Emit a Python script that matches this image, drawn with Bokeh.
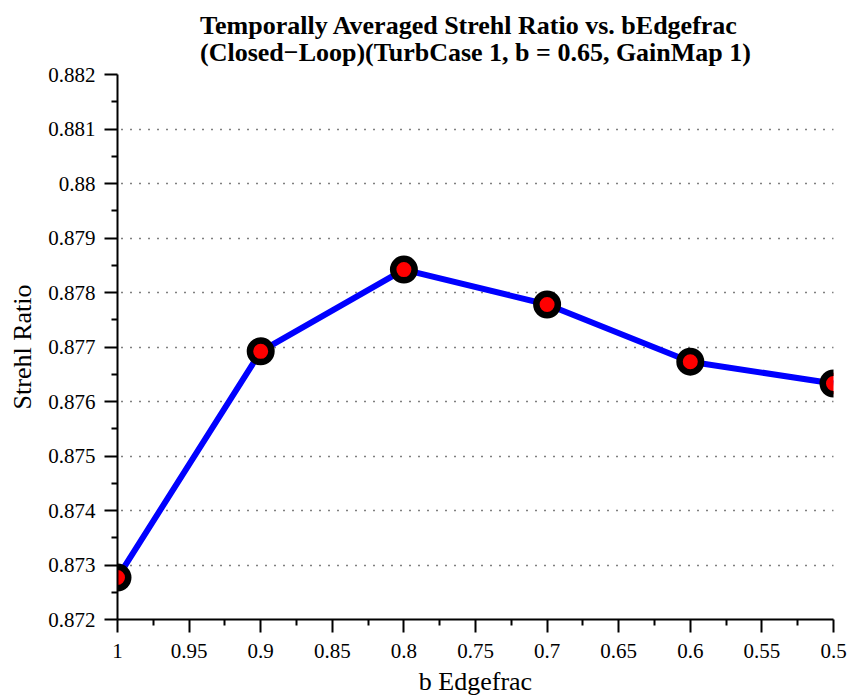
from bokeh.plotting import figure
from bokeh.models import Range1d, FixedTicker, Title
from bokeh.embed import file_html
from bokeh.resources import INLINE

# Data
b_edgefrac = [1.0, 0.9, 0.8, 0.7, 0.6, 0.5]
strehl = [0.87277, 0.87692, 0.87842, 0.87778, 0.87673, 0.87633]

x_ticks = [1.0, 0.95, 0.9, 0.85, 0.8, 0.75, 0.7, 0.65, 0.6, 0.55, 0.5]
x_tick_labels = ["1", "0.95", "0.9", "0.85", "0.8", "0.75", "0.7", "0.65", "0.6", "0.55", "0.5"]
x_minor = [0.975, 0.925, 0.875, 0.825, 0.775, 0.725, 0.675, 0.625, 0.575, 0.525]
y_ticks = [0.872, 0.873, 0.874, 0.875, 0.876, 0.877, 0.878, 0.879, 0.88, 0.881, 0.882]
y_tick_labels = ["0.872", "0.873", "0.874", "0.875", "0.876", "0.877", "0.878", "0.879", "0.88", "0.881", "0.882"]
y_minor = [0.8725, 0.8735, 0.8745, 0.8755, 0.8765, 0.8775, 0.8785, 0.8795, 0.8805, 0.8815]

title_lines = ["Temporally Averaged Strehl Ratio vs. bEdgefrac",
               "(Closed\u2212Loop)(TurbCase 1, b = 0.65, GainMap 1)"]

FONT = "Liberation Serif"

p = figure(width=851, height=698, output_backend="svg", toolbar_location=None,
           x_range=Range1d(1.0, 0.5), y_range=Range1d(0.872, 0.882),
           title=None, min_border_left=117, min_border_right=18,
           min_border_top=74, min_border_bottom=79)
p.outline_line_color = None
p.background_fill_color = "white"
p.border_fill_color = "white"

t = Title(text="\n".join(title_lines), align="center", text_font=FONT, text_font_size="26px",
          text_font_style="bold", text_color="black", standoff=14, text_line_height=0.95)
p.add_layout(t, "above")

p.xaxis.ticker = FixedTicker(ticks=x_ticks, minor_ticks=x_minor)
p.yaxis.ticker = FixedTicker(ticks=y_ticks, minor_ticks=y_minor)
p.xaxis.major_label_overrides = dict(zip(x_ticks, x_tick_labels))
p.yaxis.major_label_overrides = dict(zip(y_ticks, y_tick_labels))

for ax in (p.xaxis, p.yaxis):
    ax.axis_line_width = 2
    ax.axis_line_color = "black"
    ax.major_tick_line_width = 2
    ax.minor_tick_line_width = 2
    ax.major_tick_line_color = "black"
    ax.minor_tick_line_color = "black"
    ax.major_tick_out = 13
    ax.major_tick_in = 0
    ax.minor_tick_out = 6
    ax.minor_tick_in = 0
    ax.major_label_text_font = FONT
    ax.major_label_text_font_size = "21px"
    ax.major_label_text_color = "black"
    ax.axis_label_text_font = FONT
    ax.axis_label_text_font_size = "26px"
    ax.axis_label_text_font_style = "normal"
    ax.axis_label_text_color = "black"

p.xaxis.axis_label = "b Edgefrac"
p.yaxis.axis_label = "Strehl Ratio"
p.xaxis.major_label_standoff = 11
p.yaxis.major_label_standoff = 9
p.xaxis.axis_label_standoff = 6
p.yaxis.axis_label_standoff = 8

p.xgrid.grid_line_color = None
p.ygrid.grid_line_color = "black"
p.ygrid.grid_line_dash = "1 8"
p.ygrid.grid_line_width = 1.3

p.line(b_edgefrac, strehl, line_color="blue", line_width=6)
p.scatter(b_edgefrac, strehl, size=21.5, marker="circle", fill_color="red",
          line_color="black", line_width=6.5)

open("out.html", "w").write(file_html(p, INLINE))
